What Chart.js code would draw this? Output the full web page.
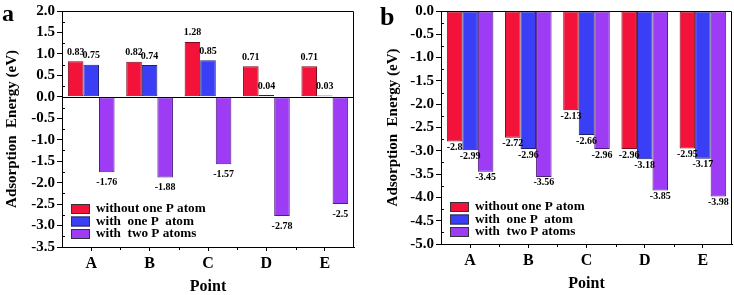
<!DOCTYPE html>
<html>
<head>
<meta charset="utf-8">
<script src="https://cdn.jsdelivr.net/npm/chart.js@4"></script>
<style>
  html, body { margin: 0; padding: 0; background: #fff; }
  #wrap { position: relative; width: 734px; height: 295px; overflow: hidden; }
  .panel { position: absolute; top: 0; height: 295px; }
  #panelA { left: 0; width: 365px; }
  #panelB { left: 365px; width: 369px; }
</style>
</head>
<body>
<div id="wrap">
  <div class="panel" id="panelA"><canvas id="chartA"></canvas></div>
  <div class="panel" id="panelB"><canvas id="chartB"></canvas></div>
</div>
<script>
const points = ["A", "B", "C", "D", "E"];
const seriesNames = ["without one P atom", "with  one P  atom", "with  two P atoms"];

// panel a
const aWithout = [0.83, 0.82, 1.28, 0.71, 0.71];
const aOneP = [0.75, 0.74, 0.85, 0.04, 0.03];
const aTwoP = [-1.76, -1.88, -1.57, -2.78, -2.5];

// panel b
const bWithout = [-2.8, -2.72, -2.13, -2.96, -2.95];
const bOneP = [-2.99, -2.96, -2.66, -3.18, -3.17];
const bTwoP = [-3.45, -3.56, -2.96, -3.85, -3.98];

const fillColors = ["#f2123a", "#3a3ef4", "#9d3cf4"];
const edgeColors = ["#7a0a1c", "#1c1f7a", "#4e1e7a"];
const serif = "'Liberation Serif', 'Times New Roman', serif";

document.addEventListener("DOMContentLoaded", function() {

  const framePlugin = {
    id: "frame",
    afterDraw(chart, args, opts) {
      const ctx = chart.ctx;
      const area = chart.chartArea;
      const y = chart.scales.y;
      ctx.save();
      ctx.strokeStyle = "#000";
      ctx.lineWidth = 1;
      // box
      ctx.beginPath();
      ctx.moveTo(area.left, area.top + 0.5);
      ctx.lineTo(area.right - 0.5, area.top + 0.5);
      ctx.lineTo(area.right - 0.5, area.bottom);
      ctx.stroke();
      // zero line
      if (opts.zeroLine) {
        const zy = Math.round(y.getPixelForValue(0)) + 0.5;
        ctx.beginPath();
        ctx.moveTo(area.left, zy);
        ctx.lineTo(area.right, zy);
        ctx.stroke();
      }
      // minor y ticks (inward)
      for (let v = y.min + 0.25; v < y.max; v += 0.5) {
        const py = Math.round(y.getPixelForValue(v)) + 0.5;
        ctx.beginPath();
        ctx.moveTo(area.left, py);
        ctx.lineTo(area.left + 3, py);
        ctx.stroke();
      }
      // minor x ticks at category boundaries
      const step = (area.right - area.left) / points.length;
      for (let i = 1; i < points.length; i++) {
        const px = Math.round(area.left + step * i) + 0.5;
        ctx.beginPath();
        ctx.moveTo(px, area.bottom);
        ctx.lineTo(px, area.bottom + 3);
        ctx.stroke();
      }

      // value labels
      ctx.fillStyle = "#000";
      ctx.font = "bold 10px " + serif;
      ctx.textAlign = "center";
      chart.data.datasets.forEach((ds, di) => {
        const meta = chart.getDatasetMeta(di);
        meta.data.forEach((bar, i) => {
          const v = ds.data[i];
          if (v >= 0) {
            ctx.textBaseline = "bottom";
            ctx.fillText(String(v), bar.x, bar.y - 4);
          } else {
            ctx.textBaseline = "top";
            ctx.fillText(String(v), bar.x, bar.y + opts.belowGap);
          }
        });
      });

      // legend inside plot
      ctx.font = "bold 12px " + serif;
      ctx.textAlign = "left";
      ctx.textBaseline = "middle";
      chart.data.datasets.forEach((ds, di) => {
        const cy = area.bottom - opts.legendBottom + di * 12.5;
        const bx = area.left + 9;
        ctx.fillStyle = ds.backgroundColor;
        ctx.fillRect(bx, cy - 5, 19, 10);
        ctx.strokeStyle = "#333";
        ctx.strokeRect(bx + 0.5, cy - 5 + 0.5, 18, 9);
        ctx.fillStyle = "#000";
        ctx.save();
        ctx.translate(bx + 25, cy);
        ctx.scale(1.1, 1);
        ctx.fillText(ds.label, 0, 0);
        ctx.restore();
      });

      // panel letter
      ctx.font = "bold " + opts.letterSize + "px " + serif;
      ctx.textBaseline = "alphabetic";
      ctx.fillText(opts.letter, opts.letterX, opts.letterY);
      ctx.restore();
    }
  };

  function makeChart(id, data, yMin, yMax, pad, yWidth, yTitlePad, frameOpts) {
    const datasets = data.map((vals, i) => ({
      label: seriesNames[i],
      data: vals,
      backgroundColor: fillColors[i],
      borderColor: edgeColors[i],
      borderWidth: 1,
      borderSkipped: false,
      categoryPercentage: 0.8,
      barPercentage: 1.0
    }));
    return new Chart(document.getElementById(id), {
      type: "bar",
      data: { labels: points, datasets: datasets },
      options: {
        responsive: true,
        maintainAspectRatio: false,
        animation: false,
        layout: { padding: pad },
        plugins: {
          legend: { display: false },
          tooltip: { enabled: false },
          frame: frameOpts
        },
        scales: {
          x: {
            grid: {
              offset: false,
              drawOnChartArea: false,
              drawTicks: true,
              tickLength: 4,
              color: "#000"
            },
            border: { color: "#000", width: 1 },
            ticks: {
              color: "#000",
              padding: 3,
              font: { family: serif, size: 16, weight: "bold" }
            },
            title: {
              display: true,
              text: "Point",
              color: "#000",
              padding: { top: 0, bottom: 0 },
              font: { family: serif, size: 16, weight: "bold", lineHeight: 1.0 }
            },
            afterFit(scale) { scale.height = 48; }
          },
          y: {
            min: yMin,
            max: yMax,
            grid: {
              drawOnChartArea: false,
              drawTicks: true,
              tickLength: 5,
              color: "#000"
            },
            border: { color: "#000", width: 1 },
            ticks: {
              stepSize: 0.5,
              color: "#000",
              padding: 2,
              font: { family: serif, size: 15, weight: "bold" },
              callback: v => v.toFixed(1)
            },
            title: {
              display: true,
              text: "Adsorption  Energy (eV)",
              color: "#000",
              padding: { top: yTitlePad, bottom: 0 },
              font: { family: serif, size: 15, weight: "bold" }
            },
            afterFit(scale) { scale.width = yWidth; }
          }
        }
      },
      plugins: [framePlugin]
    });
  }

  makeChart("chartA", [aWithout, aOneP, aTwoP], -3.5, 2.0,
    { top: 10, right: 11, left: 0, bottom: 0 }, 62, 3,
    { zeroLine: true, belowGap: 5, legendBottom: 38, letter: "a", letterX: 2, letterY: 21, letterSize: 24 });

  makeChart("chartB", [bWithout, bOneP, bTwoP], -5.0, 0.0,
    { top: 10, right: 2, left: 0, bottom: 3 }, 76, 19,
    { zeroLine: false, belowGap: 1, legendBottom: 37, letter: "b", letterX: 15, letterY: 25, letterSize: 26 });
});
</script>
</body>
</html>
